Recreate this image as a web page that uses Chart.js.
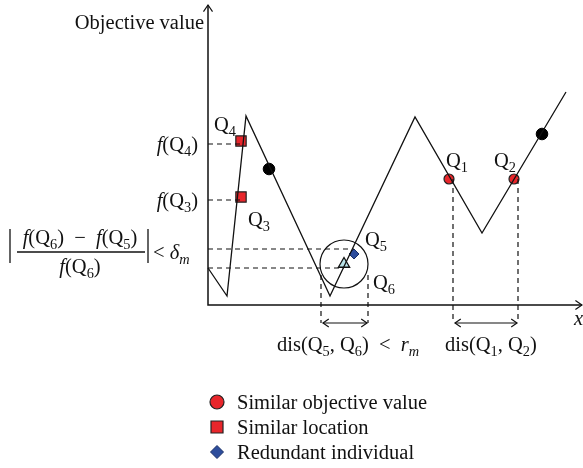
<!DOCTYPE html>
<html>
<head>
<meta charset="utf-8">
<script src="https://cdn.jsdelivr.net/npm/chart.js@4/dist/chart.umd.min.js"></script>
<style>
  html, body { margin: 0; padding: 0; background: #fff; }
</style>
</head>
<body>
<canvas id="chart" width="583" height="468"></canvas>
<script>
// fitness landscape (x = position, y = objective value)
const curveX = [0, 19, 38, 122, 207, 274, 358];
const curveY = [37, 9, 189, 9, 188, 72, 213];

// individuals
const simValueX = [241, 306]; // Q1, Q2
const simValueY = [126, 126];
const simLocX = [33, 33]; // Q4, Q3
const simLocY = [164, 108];
const otherX = [61, 334];
const otherY = [136, 171];
const redundantX = [146]; // Q5
const redundantY = [51];
const keptX = [136]; // Q6
const keptY = [41];

// guide lines [x1, y1, x2, y2]
const guides = [
  [0, 161, 33, 161],
  [0, 105, 33, 105],
  [0, 56, 146, 56],
  [0, 37, 136, 37],
  [113, 30, 113, -18],
  [160, 30, 160, -18],
  [245, 126, 245, -18],
  [310, 126, 310, -18],
];
// double arrows [x1, x2, y]
const spans = [
  [115, 159, -18],
  [247, 309, -18],
];

const xMax = 375;
const yMax = 300;

// text: [string, x, y(baseline), align]  (*..* italic, _c subscript)
const texts = [
  ["Objective value", -4, 276, "right"],
  ["*f*(Q_4)", -10, 154, "right"],
  ["*f*(Q_3)", -10, 98, "right"],
  ["Q_4", 6, 174, "left"],
  ["Q_3", 40, 79, "left"],
  ["Q_5", 157, 59, "left"],
  ["Q_6", 165, 16, "left"],
  ["Q_1", 238, 138, "left"],
  ["Q_2", 286, 138, "left"],
  ["*x*", 366, -20, "left"],
  ["dis(Q_5, Q_6)  <  *r_m*", 69, -46, "left"],
  ["dis(Q_1, Q_2)", 237, -46, "left"],
  ["*f*(Q_6)  \u2212  *f*(Q_5)", -128, 61, "center"],
  ["*f*(Q_6)", -128, 32, "center"],
  ["< *\u03b4_m*", -55, 46, "left"],
];
const legendLabels = ["Similar objective value", "Similar location", "Redundant individual"];

const RED = "#e8262b";
const BLUE = "#2d4d9c";
const FONT = '"Liberation Serif", "Times New Roman", serif';
const SIZE = 20.5;

function pts(xs, ys) {
  return xs.map((x, i) => ({ x: x, y: ys[i] }));
}

const datasets = [
  {
    data: pts(curveX, curveY),
    showLine: true,
    borderColor: "#111",
    borderWidth: 1.3,
    pointRadius: 0,
  },
];
guides.forEach((g) => {
  datasets.push({
    data: [{ x: g[0], y: g[1] }, { x: g[2], y: g[3] }],
    showLine: true,
    borderColor: "#111",
    borderWidth: 1.2,
    borderDash: [5, 4],
    pointRadius: 0,
  });
});
spans.forEach((s) => {
  datasets.push({
    data: [{ x: s[0], y: s[2] }, { x: s[1], y: s[2] }],
    showLine: true,
    borderColor: "#111",
    borderWidth: 1.2,
    pointRadius: 0,
  });
});
datasets.push(
  {
    data: pts(keptX, keptY),
    pointStyle: "circle",
    pointRadius: 24,
    backgroundColor: "rgba(0,0,0,0)",
    borderColor: "#111",
    borderWidth: 1.2,
  },
  {
    data: pts(otherX, otherY),
    pointStyle: "circle",
    pointRadius: 5.8,
    backgroundColor: "#000",
    borderColor: "#000",
  },
  {
    data: pts(simValueX, simValueY),
    pointStyle: "circle",
    pointRadius: 5,
    backgroundColor: RED,
    borderColor: "#222",
    borderWidth: 1.2,
    legendIdx: 0,
  },
  {
    data: pts(simLocX, simLocY),
    pointStyle: "rect",
    pointRadius: 7.3,
    backgroundColor: RED,
    borderColor: "#222",
    borderWidth: 1.2,
    legendIdx: 1,
  },
  {
    data: pts(keptX, keptY),
    pointStyle: "triangle",
    pointRadius: 6.5,
    backgroundColor: "#b8e2e8",
    borderColor: "#111",
    borderWidth: 1.3,
  },
  {
    data: pts(redundantX, redundantY),
    pointStyle: "rectRot",
    pointRadius: 5,
    backgroundColor: BLUE,
    borderColor: "#1a2f66",
    borderWidth: 1,
    legendIdx: 2,
  }
);

function drawRich(ctx, str, x, y, size, align) {
  const parts = [];
  let it = false;
  for (let i = 0; i < str.length; i++) {
    const ch = str[i];
    if (ch === "*") { it = !it; continue; }
    if (ch === "_") { parts.push({ t: str[i + 1], it: it, sub: true }); i++; continue; }
    parts.push({ t: ch, it: it, sub: false });
  }
  const fontFor = (p) => (p.it ? "italic " : "") + (p.sub ? size * 0.7 : size) + "px " + FONT;
  let w = 0;
  parts.forEach((p) => {
    ctx.font = fontFor(p);
    p.w = ctx.measureText(p.t).width;
    w += p.w;
  });
  let cx = align === "right" ? x - w : align === "center" ? x - w / 2 : x;
  ctx.textBaseline = "alphabetic";
  ctx.textAlign = "left";
  parts.forEach((p) => {
    ctx.font = fontFor(p);
    ctx.fillText(p.t, cx, y + (p.sub ? size * 0.25 : 0));
    cx += p.w;
  });
  return w;
}

function head(ctx, x, y, dx, dy, len) {
  // open arrow head pointing along (dx, dy)
  const a = Math.atan2(dy, dx);
  ctx.beginPath();
  ctx.moveTo(x - len * Math.cos(a - 0.6), y - len * Math.sin(a - 0.6));
  ctx.lineTo(x, y);
  ctx.lineTo(x - len * Math.cos(a + 0.6), y - len * Math.sin(a + 0.6));
  ctx.stroke();
}

const sketchPlugin = {
  id: "sketch",
  afterDatasetsDraw(chart) {
    const ctx = chart.ctx;
    const sx = chart.scales.x;
    const sy = chart.scales.y;
    const X = (v) => sx.getPixelForValue(v);
    const Y = (v) => sy.getPixelForValue(v);
    ctx.save();
    ctx.strokeStyle = "#111";
    ctx.fillStyle = "#111";

    // axes
    ctx.lineWidth = 1.5;
    ctx.beginPath();
    ctx.moveTo(X(0), Y(yMax));
    ctx.lineTo(X(0), Y(0));
    ctx.lineTo(X(xMax) - 1, Y(0));
    ctx.stroke();
    ctx.lineWidth = 1.2;
    head(ctx, X(0), Y(yMax), 0, -1, 8);
    head(ctx, X(xMax) - 1, Y(0), 1, 0, 8);

    // double arrow heads
    spans.forEach((s) => {
      head(ctx, X(s[0]), Y(s[2]), -1, 0, 7);
      head(ctx, X(s[1]), Y(s[2]), 1, 0, 7);
    });

    // labels
    texts.forEach((t) => drawRich(ctx, t[0], X(t[1]), Y(t[2]), SIZE, t[3]));

    // fraction bar and absolute value bars
    ctx.lineWidth = 1.7;
    ctx.beginPath();
    ctx.moveTo(X(-191), Y(53));
    ctx.lineTo(X(-63), Y(53));
    ctx.stroke();
    ctx.lineWidth = 1.3;
    [-198, -60].forEach((bx) => {
      ctx.beginPath();
      ctx.moveTo(X(bx), Y(76));
      ctx.lineTo(X(bx), Y(42));
      ctx.stroke();
    });

    // legend
    const lx = X(9);
    chart.data.datasets.forEach((ds) => {
      if (ds.legendIdx === undefined) return;
      const ly = Y(-97) + ds.legendIdx * 25;
      ctx.fillStyle = ds.backgroundColor;
      ctx.strokeStyle = ds.borderColor;
      ctx.lineWidth = ds.borderWidth;
      ctx.beginPath();
      const r = ds.pointStyle === "circle" ? 7 : ds.pointStyle === "rect" ? 6 : 6.5;
      if (ds.pointStyle === "circle") ctx.arc(lx, ly, r, 0, Math.PI * 2);
      else if (ds.pointStyle === "rect") ctx.rect(lx - r, ly - r, 2 * r, 2 * r);
      else {
        ctx.moveTo(lx, ly - r);
        ctx.lineTo(lx + r, ly);
        ctx.lineTo(lx, ly + r);
        ctx.lineTo(lx - r, ly);
        ctx.closePath();
      }
      ctx.fill();
      ctx.stroke();
      ctx.fillStyle = "#111";
      drawRich(ctx, legendLabels[ds.legendIdx], lx + 20, ly + 6.5, SIZE, "left");
    });
    ctx.restore();
  },
};

new Chart(document.getElementById("chart"), {
  type: "scatter",
  data: { datasets: datasets },
  options: {
    responsive: false,
    animation: false,
    devicePixelRatio: 1,
    clip: false,
    layout: { autoPadding: false, padding: { left: 208, right: 0, top: 5, bottom: 163 } },
    scales: {
      x: { type: "linear", min: 0, max: xMax, display: false },
      y: { type: "linear", min: 0, max: yMax, display: false },
    },
    plugins: { legend: { display: false }, tooltip: { enabled: false } },
  },
  plugins: [sketchPlugin],
});
</script>
</body>
</html>
